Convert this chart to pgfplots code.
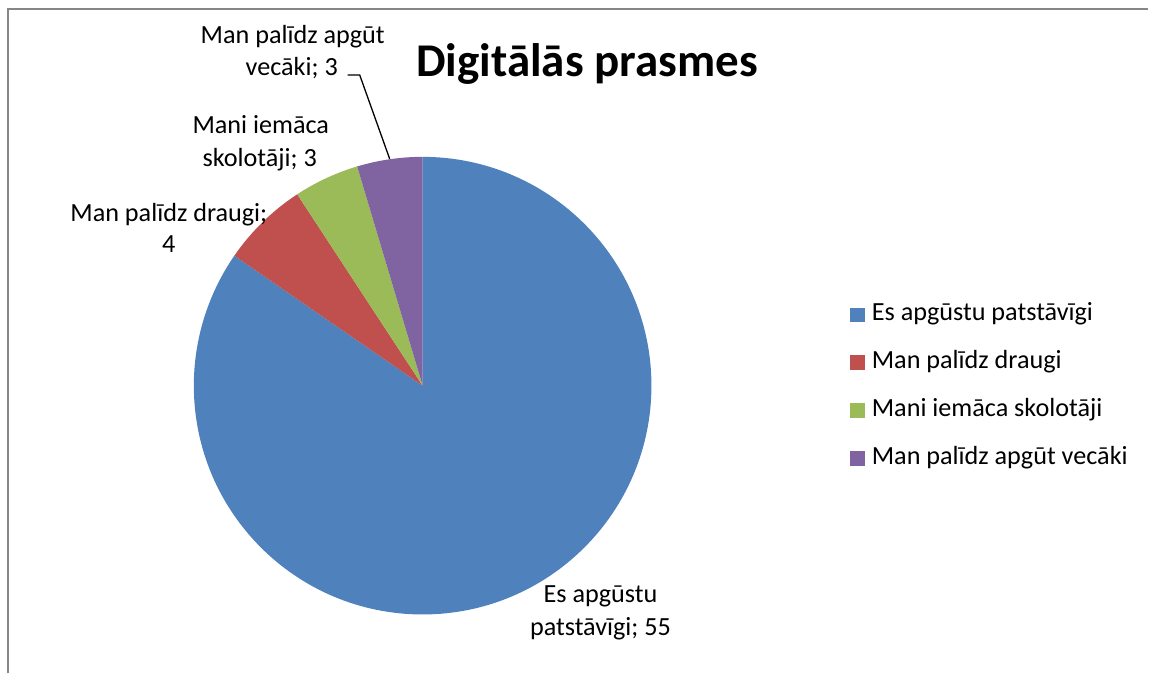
\documentclass[border=0pt]{standalone}
\usepackage{pgfplots}
\usepackage{pgfplotstable}
\pgfplotsset{compat=1.18}
\usepackage{fontspec}
\setmainfont{Carlito}
\definecolor{pieblue}{HTML}{4F81BD}
\definecolor{piered}{HTML}{C0504D}
\definecolor{piegreen}{HTML}{9BBB59}
\definecolor{piepurple}{HTML}{8064A2}
\definecolor{framegray}{HTML}{868686}

\pgfplotstableread{
idx value
0 55
1 4
2 3
3 3
}\piedata

\begin{document}%
\begin{tikzpicture}
\pgfplotstablegetelem{0}{value}\of\piedata \edef\vA{\pgfplotsretval}
\pgfplotstablegetelem{1}{value}\of\piedata \edef\vB{\pgfplotsretval}
\pgfplotstablegetelem{2}{value}\of\piedata \edef\vC{\pgfplotsretval}
\pgfplotstablegetelem{3}{value}\of\piedata \edef\vD{\pgfplotsretval}
\pgfmathsetmacro\tot{\vA+\vB+\vC+\vD}
\pgfmathsetmacro\aA{90}
\pgfmathsetmacro\aB{\aA-360*(\vA/\tot)}
\pgfmathsetmacro\aC{\aB-360*(\vB/\tot)}
\pgfmathsetmacro\aD{\aC-360*(\vC/\tot)}
\pgfmathsetmacro\aE{\aD-360*(\vD/\tot)}
\begin{axis}[
  x=0.5pt, y=0.5pt,
  xmin=0, xmax=1149, ymin=0, ymax=674,
  hide axis, clip=false,
  legend cell align=left,
  legend image code/.code={\fill[#1] (0pt,-3.6pt) rectangle (7.3pt,3.6pt);},
  legend style={at={(axis description cs:0.74064,0.55045)}, anchor=north west,
    draw=none, fill=none, inner sep=0pt, outer sep=0pt, row sep=12pt,
    font=\fontsize{13.1}{15.7}\selectfont,
    nodes={inner sep=0pt, outer sep=0pt, text height=9pt, text depth=3pt},
    /tikz/every odd column/.append style={column sep=3.5pt}},
]
\addlegendimage{fill=pieblue,draw=none}
\addlegendentry{Es apgūstu patstāvīgi}
\addlegendimage{fill=piered,draw=none}
\addlegendentry{Man palīdz draugi}
\addlegendimage{fill=piegreen,draw=none}
\addlegendentry{Mani iemāca skolotāji}
\addlegendimage{fill=piepurple,draw=none}
\addlegendentry{Man palīdz apgūt vecāki}

\path (axis cs:0,0) rectangle (axis cs:1149,674);
\draw[framegray, line width=1pt] (axis cs:8,0) -- (axis cs:8,665) -- (axis cs:1149,665);

\fill[pieblue] (axis cs:423,288) -- ++(\aA:114.5pt) arc[start angle=\aA, end angle=\aB, radius=114.5pt] -- cycle;
\fill[piered] (axis cs:423,288) -- ++(\aB:114.5pt) arc[start angle=\aB, end angle=\aC, radius=114.5pt] -- cycle;
\fill[piegreen] (axis cs:423,288) -- ++(\aC:114.5pt) arc[start angle=\aC, end angle=\aD, radius=114.5pt] -- cycle;
\fill[piepurple] (axis cs:423,288) -- ++(\aD:114.5pt) arc[start angle=\aD, end angle=\aE, radius=114.5pt] -- cycle;

\node[anchor=base, font=\fontsize{23.5}{28}\selectfont\bfseries] at (axis cs:587.5,597) {Digitālās prasmes};

\begin{scope}[every node/.style={anchor=base, font=\fontsize{13.1}{16}\selectfont, inner sep=0pt}]
\node at (axis cs:293,630) {Man palīdz apgūt};
\node at (axis cs:292,598) {vecāki; 3};
\node at (axis cs:261,540) {Mani iemāca};
\node at (axis cs:260,507) {skolotāji; 3};
\node at (axis cs:169,452) {Man palīdz draugi;};
\node at (axis cs:169,421) {4};
\node at (axis cs:601,71) {Es apgūstu};
\node at (axis cs:601,38) {patstāvīgi; 55};
\end{scope}
\draw[black, line width=0.65pt] (axis cs:348,599) -- (axis cs:360,599) -- (axis cs:390,515);
\end{axis}
\end{tikzpicture}%
\end{document}
